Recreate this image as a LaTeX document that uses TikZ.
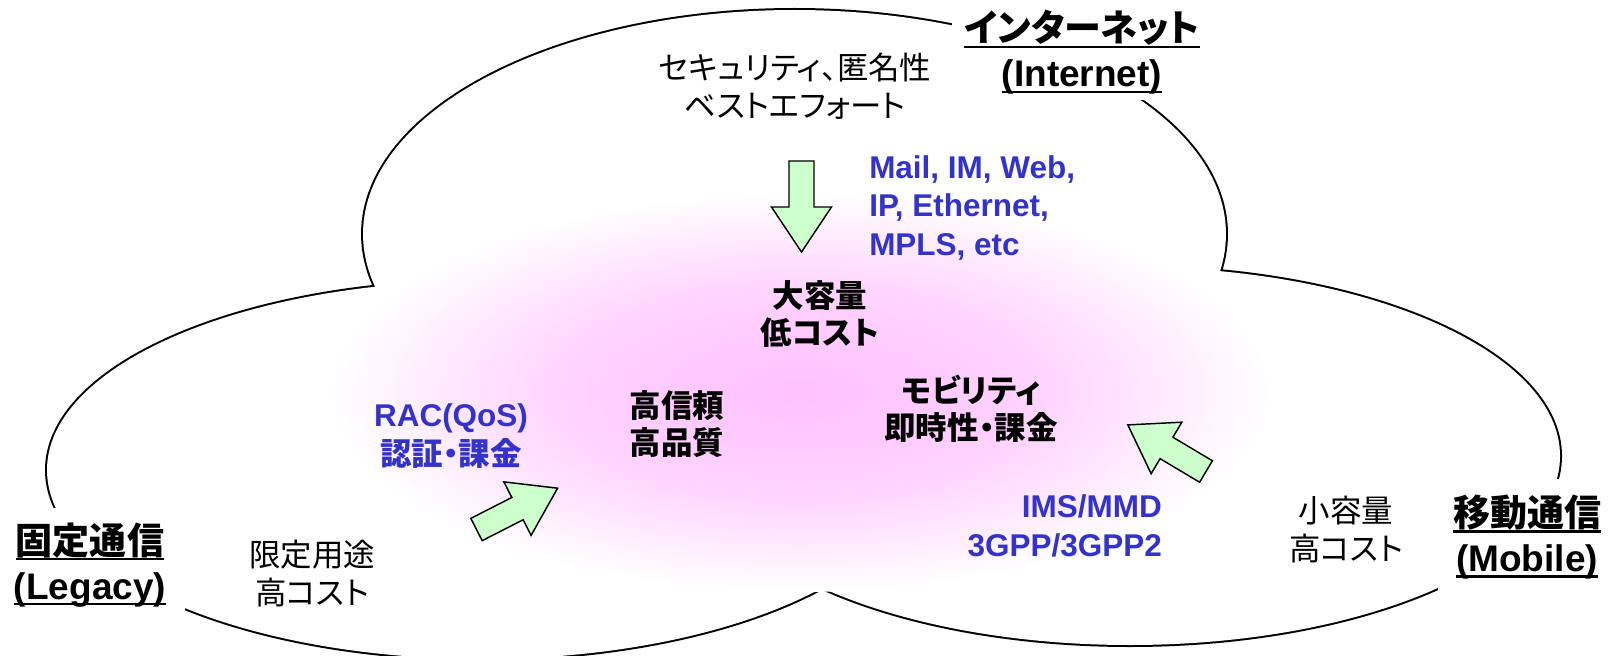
\documentclass[tikz,border=0pt]{standalone}
\usepackage{fontspec}
\setmainfont{Liberation Sans}
\newfontfamily\jp[RawFeature=+palt]{Noto Sans CJK JP}
\definecolor{arrgreen}{RGB}{204,255,204}
\definecolor{txtblue}{RGB}{51,51,204}
\definecolor{pinkc}{RGB}{255,192,255}
\definecolor{pinkm}{RGB}{255,212,255}
\pgfdeclareradialshading{pinkglow}{\pgfpoint{0bp}{0bp}}{color(0bp)=(pinkc); color(13bp)=(pinkm); color(25bp)=(white); color(50bp)=(white)}
\newcommand{\ulab}[1]{\setbox0\hbox{#1}\rlap{\rule[-4.6pt]{\wd0}{1.8pt}}\box0}
\tikzset{
  cloudline/.style={line width=3pt, draw=black},
  arrowbody/.style={draw=black, fill=arrgreen, line width=1.1pt, line join=miter},
  regtext/.style={font=\jp\fontsize{23.6pt}{28.5pt}\selectfont, align=center, inner sep=0pt},
  boldjp/.style={font=\jp\bfseries\fontsize{23.6pt}{28pt}\selectfont, align=center, inner sep=0pt},
  bluebold/.style={font=\bfseries\fontsize{23.6pt}{28.9pt}\selectfont, text=txtblue, inner sep=0pt},
  cloudlabel/.style={font=\bfseries\fontsize{27.75pt}{33.75pt}\selectfont, align=center, fill=white, inner sep=0pt},
  blockarr/.pic={\draw[arrowbody] (0,-12.5) -- (46,-12.5) -- (46,-30) -- (91,0) -- (46,30) -- (46,12.5) -- (0,12.5) -- cycle;}
}
\begin{document}
\begin{tikzpicture}[x=0.75pt,y=-0.75pt]
\useasboundingbox (0,0) rectangle (1612,656);
\clip (0,0) rectangle (1612,656);
% cloud outline (union of three ellipses)
\draw[cloudline] (794.5,234) ellipse [x radius=323.6pt, y radius=168pt];
\draw[cloudline] (482,470) ellipse [x radius=326.25pt, y radius=141.75pt];
\draw[cloudline] (1130,456) ellipse [x radius=322.5pt, y radius=141.75pt];
\fill[white] (794.5,234) ellipse [x radius=323.6pt, y radius=168pt]
             (482,470) ellipse [x radius=326.25pt, y radius=141.75pt]
             (1130,456) ellipse [x radius=322.5pt, y radius=141.75pt];
% pink glow
\shade[shading=pinkglow] (800,392) ellipse [x radius=352.5pt, y radius=150pt];
% labels
\node[cloudlabel, minimum width=195pt, minimum height=71.25pt] (internet) at (1082,52.5) {\ulab{\jp インターネット}\\\ulab{(Internet)}};
\node[cloudlabel, minimum width=142.5pt, minimum height=85.5pt] (legacy) at (90,565) {\ulab{\jp 固定通信}\\\ulab{(Legacy)}};
\node[cloudlabel, minimum width=133.5pt, minimum height=87pt] (mobile) at (1527,537) {\ulab{\jp 移動通信}\\\ulab{(Mobile)}};
% texts
\node[regtext] (netprops) at (795,86) {セキュリティ、匿名性\\ベストエフォート};
\node[bluebold, align=left, anchor=west] (apps) at (869,208) {Mail, IM, Web,\\IP, Ethernet,\\MPLS, etc};
\node[boldjp] (core) at (820,314) {大容量\\低コスト};
\node[boldjp] (qual) at (677,424) {高信頼\\高品質};
\node[boldjp] (mob) at (971,409) {モビリティ\\即時性・課金};
\node[bluebold, align=center] (rac) at (451,436) {RAC(QoS)\\{\jp 認証・課金}};
\node[bluebold, align=right, anchor=east] (ims) at (1162,526) {IMS/MMD\\3GPP/3GPP2};
\node[regtext] (legnote) at (312,574) {限定用途\\高コスト};
\node[regtext] (mobnote) at (1346,530) {小容量\\高コスト};
% block arrows
\pic[rotate=-90] (downarr) at (801.5,161) {blockarr};
\pic[rotate=27] (legarr) at (476.5,529.5) {blockarr};
\pic[rotate=149.2] (mobarr) at (1206,471.5) {blockarr};
\end{tikzpicture}
\end{document}
